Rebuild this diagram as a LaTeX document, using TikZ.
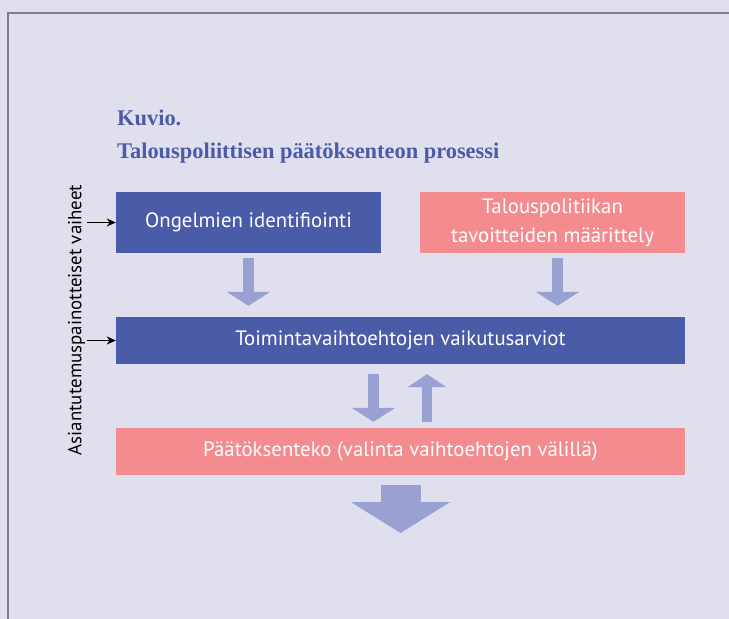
\documentclass[tikz,border=0pt]{standalone}
\usepackage{fontspec}
\setmainfont{Liberation Serif}
\setsansfont{PT Sans}
\usetikzlibrary{arrows.meta}
\definecolor{bgc}{HTML}{DFDFEE}
\definecolor{framec}{HTML}{7F7F8A}
\definecolor{bluebox}{HTML}{4A5BA8}
\definecolor{pinkbox}{HTML}{F48B8E}
\definecolor{arrc}{HTML}{98A1D1}
\definecolor{titlec}{HTML}{4B5BA9}
\tikzset{
  stepbox/.style={rectangle, inner sep=0pt, text=white, font=\sffamily\fontsize{20.8}{29}\selectfont, align=center},
  bluestep/.style={stepbox, fill=bluebox},
  pinkstep/.style={stepbox, fill=pinkbox},
  smallarr/.style={arrc, line width=10.5pt, -{Triangle[width=43pt,length=14pt]}},
  bigarr/.style={arrc, line width=40pt, -{Triangle[width=98pt,length=31pt]}},
  inarr/.style={black, line width=1.3pt, -{Stealth[length=9pt,width=8pt]}},
  titletext/.style={anchor=base west, inner sep=0pt, text=titlec, font=\bfseries\fontsize{22.4}{26}\selectfont}
}
\begin{document}
\begin{tikzpicture}[x=1pt,y=-1pt]
\useasboundingbox (0,0) rectangle (729,619);
\fill[bgc] (0,0) rectangle (729,619);
\draw[framec, line width=1.6pt] (8,625) -- (8,13) -- (735,13);

\node[titletext] (t1) at (117,125) {Kuvio.};
\node[titletext] (t2) at (117,158) {Talouspoliittisen päätöksenteon prosessi};

\node[bluestep, minimum width=265pt, minimum height=61pt] (b1) at (248.5,222.5) {Ongelmien identifiointi};
\node[pinkstep, minimum width=265pt, minimum height=61pt] (b2) at (552.5,222.5) {Talouspolitiikan\\tavoitteiden määrittely};
\node[bluestep, minimum width=569pt, minimum height=47pt] (b3) at (400.5,340.5) {Toimintavaihtoehtojen vaikutusarviot};
\node[pinkstep, minimum width=569pt, minimum height=47pt] (b4) at (400.5,451.5) {Päätöksenteko (valinta vaihtoehtojen välillä)};

\node[rotate=90, inner sep=0pt, font=\sffamily\fontsize{18.9}{22}\selectfont] (lab) at (76.5,320) {Asiantutemuspainotteiset vaiheet};

\coordinate (in1) at (87,222.5);
\coordinate (in2) at (87,340.5);
\draw[inarr] (in1) -- (b1.west);
\draw[inarr] (in2) -- (b3.west);

\draw[smallarr, shorten <=5pt, shorten >=11pt] (b1.south) -- (b1.south |- b3.north);
\draw[smallarr, shorten <=5pt, shorten >=11pt] ([xshift=5pt]b2.south) -- ([xshift=5pt]b2.south |- b3.north);
\coordinate (d1) at (373.5,0);
\coordinate (u1) at (427,0);
\draw[smallarr, shorten <=10pt, shorten >=6pt] (d1 |- b3.south) -- (d1 |- b4.north);
\draw[smallarr, line width=10pt, -{Triangle[width=38pt,length=13pt]}, shorten <=6pt, shorten >=10pt] (u1 |- b4.north) -- (u1 |- b3.south);
\coordinate (out) at (400.5,533);
\draw[bigarr, shorten <=10pt] (b4.south) -- (out);
\end{tikzpicture}
\end{document}
